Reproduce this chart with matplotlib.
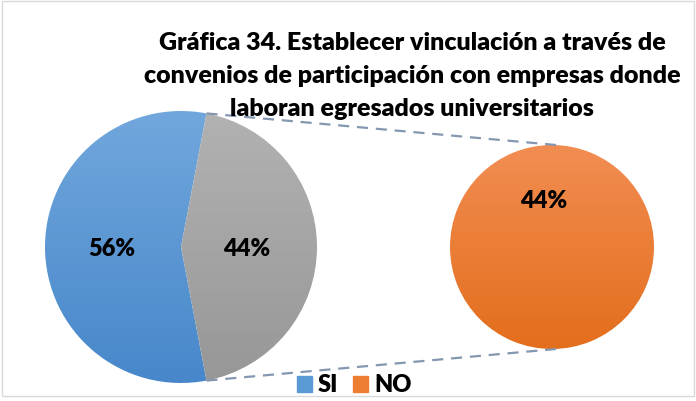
import numpy as np
import matplotlib
matplotlib.use("Agg")
import matplotlib.pyplot as plt
from matplotlib.colors import LinearSegmentedColormap
from matplotlib.patches import Rectangle

# ---- data ----
title = "Gráfica 34. Establecer vinculación a través de\nconvenios de participación con empresas donde\nlaboran egresados universitarios"
categories = ["SI", "NO"]
values = [56, 44]
main_labels = ["56%", "44%"]
sub_values = [44]
sub_labels = ["44%"]

W, H = 696, 402
fig = plt.figure(figsize=(W / 100, H / 100), dpi=100)
ax = fig.add_axes([0, 0, 1, 1])
ax.set_xlim(0, W)
ax.set_ylim(0, H)
ax.axis("off")

font = "Lato"
BW = "heavy"

def Y(yp):
    return H - yp

# chart border
ax.add_patch(Rectangle((2, Y(397)), 692, 395, fill=False, ec="#D9D9D9", lw=1.0))

c_main = (181, Y(248)); r_main = 136
c_sub = (552, Y(248)); r_sub = 102

def grad(wedge, top, bot, cx, cy, r):
    cmap = LinearSegmentedColormap.from_list("g", [bot, top])
    img = np.linspace(0, 1, 256).reshape(-1, 1)
    im = ax.imshow(img, cmap=cmap, origin="lower", aspect="auto",
                   extent=[cx - r, cx + r, cy - r, cy + r], zorder=wedge.get_zorder())
    im.set_clip_path(wedge)
    wedge.set_facecolor("none")

gray_angle = values[1] / sum(values) * 360
w_main, _ = ax.pie(values, radius=r_main, center=c_main, startangle=gray_angle / 2,
                   counterclock=True, colors=["#5B9BD5", "#A5A5A5"],
                   wedgeprops=dict(lw=0.8, edgecolor="white"), frame=True)
grad(w_main[0], "#71A7DC", "#4787CA", *c_main, r_main)
grad(w_main[1], "#B2B2B2", "#979797", *c_main, r_main)

w_sub, _ = ax.pie(sub_values, radius=r_sub, center=c_sub, colors=["#ED7D31"],
                  wedgeprops=dict(lw=0), frame=True)
grad(w_sub[0], "#F28D52", "#E36E1C", *c_sub, r_sub)

ax.set_xlim(0, W)
ax.set_ylim(0, H)
ax.axis("off")
ax.set_aspect("equal")

g = w_main[1]
for th, sy in [(g.theta2, 1), (g.theta1, -1)]:
    x0 = c_main[0] + r_main * np.cos(np.radians(th))
    y0 = c_main[1] + r_main * np.sin(np.radians(th))
    x1 = c_sub[0] + 4
    y1 = c_sub[1] + sy * r_sub
    ax.plot([x0, x1], [y0, y1], ls=(0, (5, 3.5)), color="#8497B0", lw=1.6, zorder=5)

ax.text(112, Y(249), main_labels[0], ha="center", va="center", fontsize=17,
        fontweight=BW, family=font, color="black", zorder=6)
ax.text(247, Y(249), main_labels[1], ha="center", va="center", fontsize=17,
        fontweight=BW, family=font, color="black", zorder=6)
ax.text(544, Y(201), sub_labels[0], ha="center", va="center", fontsize=17,
        fontweight=BW, family=font, color="black", zorder=6)

ax.text(412, Y(76), title, ha="center", va="center", fontsize=18, fontweight=BW,
        family=font, color="black", linespacing=1.6, zorder=6)

leg_colors = ["#5B9BD5", "#ED7D31"]
lx = [297, 353]
for x, col, lab in zip(lx, leg_colors, categories):
    ax.add_patch(Rectangle((x, Y(393)), 15, 16, color=col, zorder=6))
    ax.text(x + 21, Y(385), lab, ha="left", va="center", fontsize=17,
            fontweight=BW, family=font, zorder=6)

fig.savefig("out.png", dpi=100)
